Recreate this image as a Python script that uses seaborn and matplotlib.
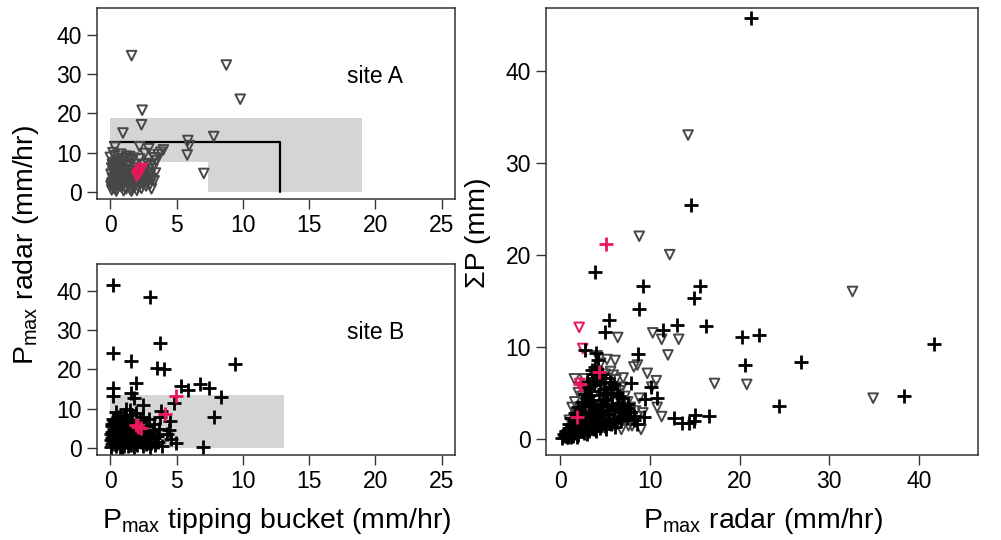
import numpy as np
import pandas as pd
import matplotlib
matplotlib.use("Agg")
import matplotlib.pyplot as plt
import seaborn as sns
from matplotlib.patches import Rectangle

# Site A: P_max tipping bucket vs P_max radar (mm/hr)
siteA_tb = [1.6, 8.75, 9.8, 2.4, 2.35, 0.95, 7.8, 5.85, 5.95, 5.8, 7.05, 4.0, 0.35, 2.2, 2.9,
            1.45, 0.0, 3.0, 3.1, 3.5, 3.3, 3.6, 2.6, 3.8,
            0.1, 0.2, 0.1, 0.3, 0.15, 0.4, 0.2, 0.1, 0.35, 0.25,
            0.5, 0.6, 0.5, 0.7, 0.55, 0.8, 0.6, 0.75, 0.5, 0.9,
            1.0, 1.1, 0.95, 1.2, 1.05, 1.3, 1.15, 1.0, 1.25, 1.4,
            1.5, 1.6, 1.45, 1.7, 1.55, 1.8, 1.65, 1.9, 1.5, 1.75,
            2.0, 2.1, 2.2, 2.05, 2.3, 2.5, 2.7, 2.6, 2.9, 3.2, 2.8, 3.1, 0.3, 0.8, 1.1,
            0.05, 0.15, 0.25, 0.05, 0.3, 0.15, 0.45, 0.4, 0.65, 0.45, 0.7, 0.4, 0.85, 0.85,
            0.9, 1.0, 0.85, 0.9, 1.2, 1.3, 1.35, 1.2, 1.4, 1.3, 1.6, 1.75, 1.9, 1.85, 2.0,
            1.8, 2.35, 2.45, 2.6, 2.4, 2.75, 2.85, 3.0, 3.3, 3.4, 3.0, 0.6, 1.2, 2.2, 2.5,
            3.3, 0.2, 0.3, 0.7, 1.1, 0.6, 1.0, 0.2, 1.4]
siteA_radar = [34.7, 32.3, 23.6, 20.8, 17.1, 15.0, 14.1, 13.1, 11.8, 9.4, 4.7, 10.7, 11.4, 11.5, 11.0,
               9.0, 8.8, 2.0, 0.8, 8.0, 7.0, 9.5, 9.8, 10.1,
               0.5, 1.2, 2.0, 2.8, 3.5, 4.2, 5.0, 6.1, 6.8, 7.5,
               0.8, 1.6, 2.4, 3.1, 3.9, 4.6, 5.4, 6.2, 7.0, 7.8,
               0.3, 1.1, 1.9, 2.6, 3.4, 4.1, 4.9, 5.7, 6.5, 7.3,
               0.6, 1.4, 2.2, 3.0, 3.8, 4.5, 5.3, 6.1, 8.2, 8.6,
               0.4, 1.3, 2.3, 3.2, 4.0, 2.9, 1.5, 5.5, 4.6, 5.8, 7.2, 3.4, 9.2, 9.6, 8.5,
               1.5, 2.4, 3.1, 4.5, 5.6, 7.0, 0.2, 1.9, 2.7, 3.6, 4.9, 6.4, 1.2, 2.2,
               3.0, 4.4, 5.2, 6.6, 0.8, 1.8, 2.9, 3.8, 5.6, 6.9, 0.2, 1.0, 2.0, 3.4, 5.5,
               7.0, 0.9, 2.0, 3.6, 4.5, 2.5, 5.8, 4.0, 2.8, 4.8, 6.5, 8.3, 9.1, 8.4, 7.0,
               8.7, 10.0, 0.9, 2.0, 3.0, 4.0, 5.0, 6.0, 4.4]
siteA_red_tb = [2.0, 2.2, 2.4, 2.1, 2.3]
siteA_red_radar = [4.0, 5.0, 6.0, 4.6, 5.6]

# Site B: P_max tipping bucket vs P_max radar (mm/hr)
siteB_tb = [0.17, 2.96, 3.77, 0.17, 1.58, 3.52, 4.02, 9.38, 1.96, 0.17, 0.17, 1.58, 5.33, 5.83,
            6.74, 7.42, 8.37, 7.79, 6.99, 4.98, 2.5, 4.8, 4.5, 3.8, 3.75, 3.7, 4.4, 1.8, 1.5,
            3.3, 2.7, 4.3, 4.6, 3.9,
            0.05, 0.1, 0.2, 0.1, 0.3, 0.15, 0.25, 0.1, 0.35, 0.2,
            0.45, 0.5, 0.4, 0.6, 0.5, 0.7, 0.55, 0.65, 0.45, 0.6,
            0.85, 0.9, 1.0, 0.8, 1.05, 0.9, 1.1, 0.95, 1.15, 1.0,
            1.3, 1.4, 1.25, 1.5, 1.35, 1.6, 1.45, 1.7, 1.3, 1.55,
            1.8, 1.9, 2.0, 1.85, 2.1, 2.25, 2.3, 2.5, 2.4, 2.6, 2.8, 3.0, 2.7, 3.1, 3.4, 2.2, 2.9, 3.3,
            0.05, 0.2, 0.05, 0.3, 0.1, 0.3, 0.35, 0.35, 0.6, 0.4, 0.6, 0.5, 0.75, 0.75, 0.7,
            0.8, 0.8, 0.75, 1.05, 1.2, 1.15, 1.25, 1.2, 1.1, 1.55, 1.6, 1.65, 1.5, 1.6, 2.0,
            2.15, 2.0, 2.35, 2.6, 2.75, 2.9, 3.2, 3.5, 3.6, 3.0, 2.5, 1.9, 0.4, 1.2]
siteB_radar = [41.6, 38.3, 26.8, 24.3, 22.2, 20.5, 20.1, 21.3, 16.6, 15.2, 13.2, 14.1, 15.8, 14.9,
               16.3, 15.2, 13.1, 8.0, 0.2, 1.2, 10.9, 11.4, 6.8, 9.4, 8.0, 4.8, 4.7, 12.8, 9.8,
               2.5, 1.0, 3.5, 2.2, 0.5,
               0.3, 1.0, 1.8, 2.6, 3.3, 4.1, 4.9, 5.7, 6.5, 7.4,
               0.6, 1.4, 2.2, 3.0, 3.8, 4.5, 5.3, 6.1, 7.0, 8.0,
               0.2, 1.1, 1.9, 2.7, 3.5, 4.3, 5.1, 5.9, 6.8, 7.6,
               0.5, 1.3, 2.1, 2.9, 3.7, 4.4, 5.2, 6.0, 7.2, 8.4,
               0.3, 1.2, 2.0, 2.9, 3.6, 4.4, 1.6, 0.6, 3.0, 2.2, 4.0, 3.3, 5.6, 1.4, 0.7, 6.8, 7.3, 6.1,
               2.0, 2.9, 3.7, 4.5, 6.2, 7.0, 1.0, 1.9, 2.6, 4.2, 5.8, 6.6, 0.4, 1.5, 3.4,
               5.0, 6.4, 7.9, 0.6, 1.6, 2.5, 4.0, 5.6, 8.3, 0.9, 1.8, 3.3, 4.8, 6.6, 0.7,
               2.6, 4.0, 5.0, 3.6, 1.2, 2.6, 4.4, 3.0, 1.6, 0.3, 7.8, 9.0, 9.2, 10.0]
siteB_red_tb = [4.98, 4.15, 1.9, 2.1, 2.3]
siteB_red_radar = [13.2, 8.8, 5.9, 5.5, 5.2]

# event totals: P_max radar vs sum P (mm)
sumA_radar = [14.25, 8.8, 12.2, 32.6, 6.4, 10.3, 11.3, 13.2, 12.0, 17.2, 20.8, 34.9, 11.3, 10.8,
              9.0, 8.0, 9.7, 10.7, 10.2, 8.2, 8.6, 7.0, 1.56, 2.7, 1.3, 4.1, 5.2, 6.1, 4.5, 5.6,
              6.6, 7.5, 8.4, 7.2, 6.0, 5.1, 3.4,
              0.5, 1.0, 1.5, 2.0, 2.5, 3.0, 3.5, 4.0, 4.5, 5.0, 5.5, 6.0, 6.5, 7.0, 3.2, 2.4,
              4.2, 5.4, 6.2, 3.8, 1.8, 2.8, 4.8, 6.8, 7.8,
              1.0, 1.6, 2.2, 2.6, 3.4, 3.8, 4.4, 4.9, 5.6, 6.4, 7.2, 7.8, 8.6, 7.6, 5.8, 3.0,
              2.0, 4.6, 5.0, 5.9, 6.9, 3.6, 1.6, 8.8, 9.2]
sumA_total = [33.0, 22.0, 20.0, 16.0, 11.0, 11.5, 10.8, 10.8, 9.1, 6.0, 5.9, 4.4, 2.4, 3.4,
              1.0, 1.4, 7.1, 6.3, 5.6, 7.8, 8.0, 6.6, 6.5, 6.5, 3.4, 9.0, 8.6, 8.5, 8.2, 7.3,
              5.2, 4.0, 3.0, 2.5, 1.8, 4.6, 5.8,
              0.2, 0.6, 1.0, 1.5, 0.8, 2.0, 1.3, 2.8, 3.5, 2.2, 3.0, 4.0, 3.2, 2.0, 3.9, 4.6,
              5.2, 5.6, 6.4, 6.8, 2.8, 3.2, 1.4, 1.0, 2.2,
              2.0, 2.2, 2.6, 2.0, 2.6, 3.4, 2.4, 3.2, 4.2, 4.8, 4.6, 3.4, 2.4, 1.4, 2.0, 4.8,
              5.0, 6.2, 7.0, 6.9, 5.6, 6.0, 4.0, 4.4, 2.8]
sumA_red_radar = [2.1, 2.5, 2.16, 2.3]
sumA_red_total = [12.1, 9.8, 6.0, 5.6]

sumB_radar = [21.3, 14.6, 3.9, 9.2, 15.6, 14.9, 8.75, 5.47, 4.95, 11.4, 13.0, 16.2, 20.3, 22.2,
              20.6, 26.8, 41.7, 38.4, 24.4, 16.6, 15.0, 14.9, 12.7, 13.6, 14.4, 10.8, 9.4, 9.35,
              8.2, 7.9, 10.1, 8.7, 2.7, 3.5, 4.0,
              0.2, 0.5, 0.8, 1.1, 1.4, 1.7, 2.0, 2.3, 2.6, 2.9, 3.2, 3.5, 3.8, 4.1, 4.4, 4.7,
              5.0, 5.3, 5.6, 5.9, 6.2, 6.5, 6.8, 7.1, 7.4, 7.8,
              0.6, 1.0, 1.3, 1.6, 1.9, 2.2, 2.5, 2.8, 3.1, 3.4, 3.7, 4.0, 3.6, 3.0,
              1.5, 2.1, 2.7, 3.3, 3.9, 4.5, 5.1, 5.7, 6.3, 6.9, 7.5, 6.0, 5.4, 4.8, 4.2, 3.6,
              4.3, 4.9, 5.5, 4.6, 3.2, 2.4, 1.8, 5.2, 6.6, 7.0,
              0.4, 0.9, 1.2, 1.6, 2.0, 2.4, 2.8, 3.2, 3.6, 4.0, 4.4, 4.8, 5.4, 5.8, 6.4, 6.8,
              7.2, 7.6, 8.2, 8.6, 1.2, 1.6, 2.0, 2.4, 2.8, 3.2, 3.6, 3.9, 4.2, 4.4, 4.8, 5.2,
              5.6, 6.0, 6.5, 5.0, 3.4, 2.6, 1.0, 0.7, 1.9, 3.0, 4.0, 5.1, 6.1]
sumB_total = [45.7, 25.4, 18.1, 16.6, 16.6, 15.3, 14.1, 12.9, 11.6, 11.8, 12.4, 12.2, 11.1, 11.3,
              8.0, 8.3, 10.3, 4.6, 3.6, 2.5, 2.6, 1.9, 2.2, 1.7, 1.7, 4.4, 4.3, 2.3,
              2.5, 6.0, 5.6, 9.2, 9.6, 7.5, 9.3,
              0.1, 0.3, 0.2, 0.5, 0.3, 0.7, 0.4, 0.9, 0.6, 1.1, 0.8, 1.3, 1.0, 1.5, 1.2, 1.7,
              1.4, 1.9, 1.6, 2.1, 1.8, 2.3, 2.0, 2.6, 2.2, 2.9,
              0.8, 1.2, 1.6, 2.0, 2.5, 3.0, 3.5, 4.0, 4.6, 5.2, 5.8, 6.4, 7.0, 6.2,
              1.2, 1.8, 2.3, 2.8, 3.3, 3.8, 4.3, 4.8, 5.0, 4.4, 3.8, 3.2, 2.7, 2.2, 2.5, 3.7,
              4.7, 5.4, 6.2, 7.0, 3.5, 2.2, 1.5, 3.5, 2.9, 3.5,
              0.5, 0.9, 0.2, 0.6, 1.0, 1.4, 1.8, 2.2, 2.1, 2.0, 2.6, 3.0, 3.1, 3.7, 3.9, 3.3,
              2.9, 3.3, 2.0, 1.6, 2.2, 2.8, 3.4, 4.0, 4.8, 5.6, 6.6, 7.8, 8.5, 6.0, 4.2, 5.0,
              5.6, 5.9, 4.6, 6.6, 4.2, 2.6, 1.6, 0.2, 0.2, 0.5, 0.8, 1.0, 1.3]
sumB_red_radar = [5.1, 4.35, 1.9, 2.2]
sumB_red_total = [21.2, 7.2, 2.3, 5.9]

# shaded ranges (mm/hr)
siteA_box = (19.0, 18.9)
siteA_gap = (7.4, 7.5)
siteA_thresh = 12.8
siteB_box = (13.1, 13.4)

tri_col = "#474747"
red_col = "#e8185a"
shade = "#d5d5d5"

sns.set_theme(style="ticks")
plt.rcParams["font.family"] = ["Liberation Sans", "DejaVu Sans"]
plt.rcParams["mathtext.fontset"] = "custom"
plt.rcParams["mathtext.rm"] = "Liberation Sans"
plt.rcParams["mathtext.it"] = "Liberation Sans:italic"
plt.rcParams["mathtext.bf"] = "Liberation Sans:bold"

fig = plt.figure(figsize=(10.01, 5.4), dpi=100)
axA = fig.add_axes([0.097, 0.6315, 0.3575, 0.3535])
axB = fig.add_axes([0.097, 0.157, 0.3575, 0.354])
axS = fig.add_axes([0.5455, 0.157, 0.4315, 0.828])


def tri(ax, x, y, col):
    sns.scatterplot(x=x, y=y, ax=ax, marker="v", s=48, facecolor="none",
                    edgecolor=col, linewidth=1.4, legend=False, zorder=3)


def cross(ax, x, y, col):
    sns.scatterplot(x=x, y=y, ax=ax, marker="+", s=90, color=col,
                    linewidth=2.0, legend=False, zorder=4)


# site A panel
axA.add_patch(Rectangle((0, 0), siteA_box[0], siteA_box[1], color=shade, lw=0, zorder=1))
axA.add_patch(Rectangle((0, 0), siteA_gap[0], siteA_gap[1], color="white", lw=0, zorder=1.5))
axA.plot([0, siteA_thresh, siteA_thresh], [siteA_thresh, siteA_thresh, 0],
         color="black", lw=1.6, zorder=2)
tri(axA, siteA_tb, siteA_radar, tri_col)
tri(axA, siteA_red_tb, siteA_red_radar, red_col)
axA.text(20, 29.5, "site A", ha="center", va="center", fontsize=16.5, color="black")

# site B panel
axB.add_patch(Rectangle((0, 0), siteB_box[0], siteB_box[1], color=shade, lw=0, zorder=1))
cross(axB, siteB_tb, siteB_radar, "black")
cross(axB, siteB_red_tb, siteB_red_radar, red_col)
axB.text(20, 29.5, "site B", ha="center", va="center", fontsize=16.5, color="black")

# totals panel
tri(axS, sumA_radar, sumA_total, tri_col)
cross(axS, sumB_radar, sumB_total, "black")
tri(axS, sumA_red_radar, sumA_red_total, red_col)
cross(axS, sumB_red_radar, sumB_red_total, red_col)

for ax in (axA, axB):
    ax.set_xlim(-1, 26)
    ax.set_ylim(-1.8, 46.8)
    ax.set_xticks([0, 5, 10, 15, 20, 25])
    ax.set_yticks([0, 10, 20, 30, 40])
axS.set_xlim(-1.6, 46.6)
axS.set_ylim(-1.8, 46.8)
axS.set_xticks([0, 10, 20, 30, 40])
axS.set_yticks([0, 10, 20, 30, 40])

for ax in (axA, axB, axS):
    ax.set_xlabel("")
    ax.set_ylabel("")
    ax.tick_params(direction="out", length=7, width=1, labelsize=16.5,
                   color="#333333", labelcolor="black", pad=4)
    for sp in ax.spines.values():
        sp.set_visible(True)
        sp.set_color("#333333")
        sp.set_linewidth(1.1)

fig.text(0.276, 0.022, r"P$_{\mathrm{max}}$ tipping bucket (mm/hr)", ha="center",
         va="baseline", fontsize=20.5, color="black")
fig.text(0.762, 0.022, r"P$_{\mathrm{max}}$ radar (mm/hr)", ha="center",
         va="baseline", fontsize=20.5, color="black")
fig.text(0.026, 0.546, r"P$_{\mathrm{max}}$ radar (mm/hr)", ha="center",
         va="center", rotation=90, fontsize=20.5, color="black")
fig.text(0.4775, 0.5685, "ΣP (mm)", ha="center", va="center", rotation=90,
         fontsize=20.5, color="black")

fig.savefig("out.png", dpi=100)
